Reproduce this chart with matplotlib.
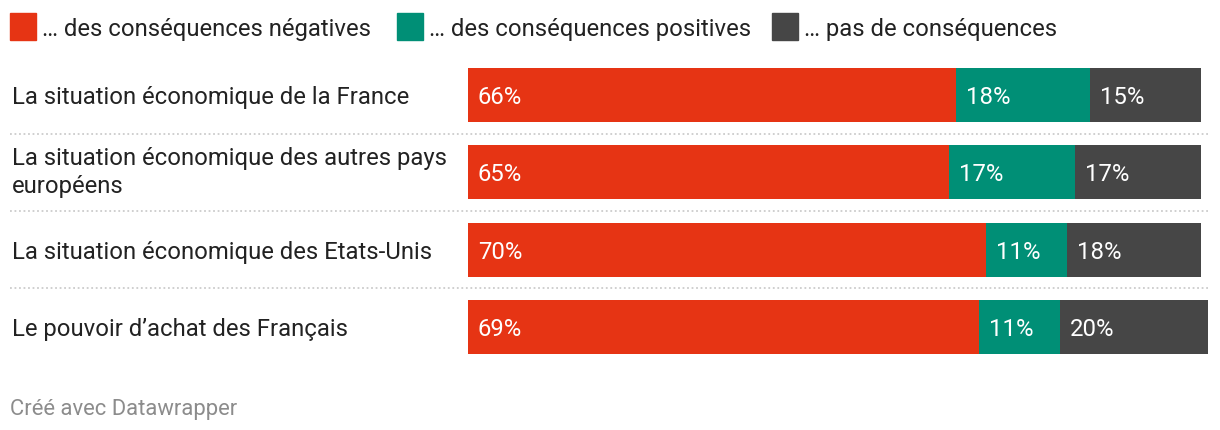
import matplotlib.pyplot as plt
import matplotlib.transforms as mtransforms
from matplotlib.patches import Rectangle
import numpy as np

plt.rcParams['font.family'] = ['Roboto', 'DejaVu Sans']

categories = [
    "La situation économique de la France",
    "La situation économique des autres pays\neuropéens",
    "La situation économique des Etats-Unis",
    "Le pouvoir d\u2019achat des Français",
]
series_names = [
    "\u2026 des conséquences négatives",
    "\u2026 des conséquences positives",
    "\u2026 pas de conséquences",
]
negatives = [66, 65, 70, 69]
positives = [18, 17, 11, 11]
none = [15, 17, 18, 20]

colors = ['#e63414', '#008f76', '#464646']

W, H = 1220, 430
fig = plt.figure(figsize=(W / 100, H / 100), dpi=100)

# axes placed in pixel terms
left, right = 468, 1208
top, bottom = 56.3, 365.7
ax = fig.add_axes([left / W, 1 - bottom / H, (right - left) / W, (bottom - top) / H])
ax.set_xlim(0, 100)
ax.set_ylim(len(categories) - 0.5, -0.5)
ax.axis('off')

fs = 17.2

y = np.arange(len(categories))
starts = np.zeros(len(categories))
for vals, col in zip([negatives, positives, none], colors):
    ax.barh(y, vals, left=starts, height=0.70, color=col, linewidth=0)
    for yi, s, v in zip(y, starts, vals):
        ax.text(s + 1.35, yi, f"{v}%", color='white', fontsize=fs,
                va='center_baseline', ha='left')
    starts = starts + np.array(vals)

# category labels on the left
trans = mtransforms.blended_transform_factory(fig.transFigure, ax.transData)
for yi, cat in zip(y, categories):
    va = 'center' if '\n' in cat else 'center_baseline'
    ax.text(12 / W, yi, cat, transform=trans, fontsize=fs, color='#222222',
            va=va, ha='left', linespacing=1.3)

# dotted separators
for yi in y[:-1]:
    ax.plot([10 / W, right / W], [yi + 0.5, yi + 0.5], transform=trans,
            color='#cccccc', linestyle=(0, (1, 1.5)), linewidth=1.3, clip_on=False)

# legend
legend_x = [10, 397, 772]
for lx, name, col in zip(legend_x, series_names, colors):
    fig.patches.append(Rectangle((lx / W, 1 - 40 / H), 26 / W, 27 / H,
                                 transform=fig.transFigure, color=col))
    fig.text((lx + 32) / W, 1 - 27 / H, name, fontsize=fs, color='#222222',
             va='center_baseline', ha='left')

fig.text(10 / W, 1 - 407 / H, "Créé avec Datawrapper", fontsize=15.8,
         color='#8c8c8c', va='center_baseline', ha='left')

fig.savefig('out.png', dpi=100)
